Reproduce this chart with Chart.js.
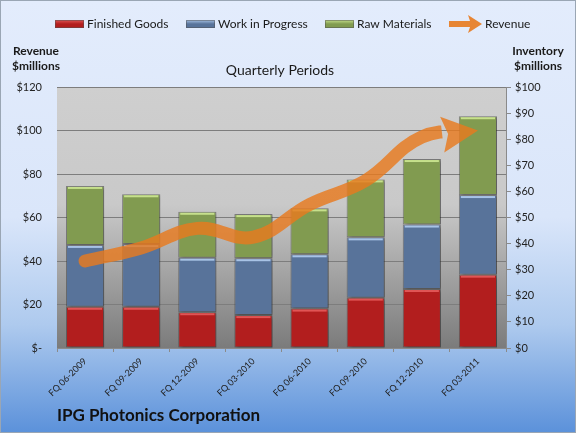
<!DOCTYPE html>
<html>
<head>
<meta charset="utf-8">
<script src="https://cdn.jsdelivr.net/npm/chart.js@4.4.1/dist/chart.umd.min.js"></script>
<style>
html,body{margin:0;padding:0;background:#fff;}
#wrap{width:576px;height:433px;}
</style>
</head>
<body>
<div id="wrap"><canvas id="chart" width="576" height="433"></canvas></div>
<script>
// quarter labels
const periods = ["FQ 06-2009", "FQ 09-2009", "FQ 12-2009", "FQ 03-2010",
                 "FQ 06-2010", "FQ 09-2010", "FQ 12-2010", "FQ 03-2011"];
// inventory, $ millions (right axis)
const finishedGoods  = [15.8, 15.8, 13.7, 12.6, 15.1, 19.3, 22.6, 28.1];
const workInProgress = [23.7, 24.0, 20.9, 21.8, 20.8, 23.1, 24.7, 30.5];
const rawMaterials   = [22.6, 19.1, 17.6, 16.9, 17.6, 22.2, 25.1, 30.2];
// revenue, $ millions (left axis)
const revenue = [40, 46, 55, 51, 66, 77, 97, 100];

const FONT = "Lato, 'Open Sans', sans-serif";
const ORANGE = "rgba(232,122,30,0.82)";

const barLook = [
    {fill:"#b21e1e", hi:"#e05555"},
    {fill:"#58739a", hi:"#a8c3e6"},
    {fill:"#819b50", hi:"#c6e08c"}
];

//      background: blue frame + gray plot gradient
const backdrop = {
    id:"backdrop",
    beforeDraw(chart){
        const {ctx, width, height, chartArea:a} = chart;
        ctx.save();
        let g = ctx.createLinearGradient(0,0,0,height);
        g.addColorStop(0,"#e3ecfc");
        g.addColorStop(0.5,"#dae6fa");
        g.addColorStop(0.75,"#aecaee");
        g.addColorStop(1,"#5b91da");
        ctx.fillStyle = g;
        ctx.fillRect(0,0,width,height);
        ctx.strokeStyle = "#9aa6b4";
        ctx.lineWidth = 1;
        ctx.strokeRect(0.5,0.5,width-1,height-1);

        let p = ctx.createLinearGradient(0,a.top,0,a.bottom);
        p.addColorStop(0,"#cfcfcf");
        p.addColorStop(0.45,"#c9c9c9");
        p.addColorStop(1,"#7b7b7b");
        ctx.fillStyle = p;
        ctx.fillRect(a.left,a.top,a.right-a.left,a.bottom-a.top);
        ctx.restore();
    }
};

//      bevel highlight on top of each bar piece + soft shadow
const bevel = {
    id:"bevel",
    beforeDatasetDraw(chart,args){
        if (args.meta.type !== "bar") return;
        const ctx = chart.ctx;
        ctx.save();
        ctx.shadowColor = "rgba(0,0,0,0.35)";
        ctx.shadowOffsetX = 2;
        ctx.shadowOffsetY = 1;
        ctx.shadowBlur = 3;
    },
    afterDatasetDraw(chart,args){
        if (args.meta.type !== "bar") return;
        const ctx = chart.ctx;
        ctx.restore();
        const look = barLook[args.index];
        ctx.save();
        args.meta.data.forEach(bar=>{
            const w = bar.width;
            ctx.fillStyle = look.hi;
            ctx.fillRect(bar.x - w/2 + 2, bar.y + 1, w - 4, 2);
        });
        ctx.restore();
    }
};

//      arrow head at the end of the revenue line
function headGeom(chart){
    const meta = chart.getDatasetMeta(3);
    const pts = meta.data;
    const last = pts[pts.length-1];
    const prev = pts[pts.length-2];
    let bx = (last.cp1x !== undefined) ? last.cp1x : prev.x;
    let by = (last.cp1y !== undefined) ? last.cp1y : prev.y;
    let dx = last.x - bx, dy = last.y - by;
    let len = Math.hypot(dx,dy) || 1;
    dx/=len; dy/=len;
    return {x:last.x, y:last.y, dx, dy, nx:-dy, ny:dx};
}
const arrowHead = {
    id:"arrowHead",
    beforeDatasetDraw(chart,args){
        if (args.index !== 3) return;
        const ctx = chart.ctx, h = headGeom(chart);
        const L = 36;
        const bx = h.x - h.dx*L, by = h.y - h.dy*L;
        ctx.save();
        ctx.beginPath();
        ctx.rect(0,0,chart.width,chart.height);
        ctx.moveTo(bx + h.nx*60, by + h.ny*60);
        ctx.lineTo(bx + h.nx*60 + h.dx*120, by + h.ny*60 + h.dy*120);
        ctx.lineTo(bx - h.nx*60 + h.dx*120, by - h.ny*60 + h.dy*120);
        ctx.lineTo(bx - h.nx*60, by - h.ny*60);
        ctx.closePath();
        ctx.clip("evenodd");
    },
    afterDatasetDraw(chart,args){
        if (args.index !== 3) return;
        const ctx = chart.ctx;
        ctx.restore();
        const h = headGeom(chart);
        const L = 36, W = 18;
        const bx = h.x - h.dx*L, by = h.y - h.dy*L;
        ctx.save();
        ctx.fillStyle = ORANGE;
        ctx.beginPath();
        ctx.moveTo(h.x, h.y);
        ctx.lineTo(bx + h.nx*W, by + h.ny*W);
        ctx.lineTo(bx + h.dx*6, by + h.dy*6);
        ctx.lineTo(bx - h.nx*W, by - h.ny*W);
        ctx.closePath();
        ctx.fill();
        ctx.restore();
    }
};

//      legend, axis titles and company name
const texts = {
    id:"texts",
    afterDraw(chart){
        const ctx = chart.ctx;
        ctx.save();
        ctx.textBaseline = "middle";
        ctx.fillStyle = "#1a1a1a";
        ctx.font = "12px " + FONT;

        const names = ["Finished Goods","Work in Progress","Raw Materials"];
        const sx = [55, 186, 325];
        const ly = 24;
        names.forEach((n,i)=>{
            let g = ctx.createLinearGradient(0,ly-4,0,ly+4);
            g.addColorStop(0,barLook[i].hi);
            g.addColorStop(0.5,barLook[i].fill);
            g.addColorStop(1,barLook[i].fill);
            ctx.fillStyle = g;
            ctx.fillRect(sx[i], ly-4, 29, 8);
            ctx.strokeStyle = "rgba(80,80,80,0.5)";
            ctx.lineWidth = 1;
            ctx.strokeRect(sx[i]+0.5, ly-3.5, 28, 7);
            ctx.fillStyle = "#1a1a1a";
            ctx.textAlign = "left";
            ctx.fillText(n, sx[i]+32, ly);
        });
        // revenue arrow in legend
        ctx.fillStyle = "rgba(232,122,30,0.9)";
        ctx.beginPath();
        ctx.moveTo(449, ly-3);
        ctx.lineTo(470, ly-3);
        ctx.lineTo(468, ly-9);
        ctx.lineTo(482, ly);
        ctx.lineTo(468, ly+9);
        ctx.lineTo(470, ly+3);
        ctx.lineTo(449, ly+3);
        ctx.closePath();
        ctx.fill();
        ctx.fillStyle = "#1a1a1a";
        ctx.fillText("Revenue", 485, ly);

        ctx.font = "bold 12px " + FONT;
        ctx.textAlign = "center";
        ctx.fillText("Revenue", 36, 51);
        ctx.fillText("$millions", 36, 66);
        ctx.fillText("Inventory", 538, 51);
        ctx.fillText("$millions", 538, 66);

        ctx.font = "14px " + FONT;
        ctx.fillText("Quarterly Periods", 280, 70);

        ctx.font = "bold 17px " + FONT;
        ctx.textAlign = "left";
        ctx.fillStyle = "#111";
        ctx.fillText("IPG Photonics Corporation", 57, 416);
        ctx.restore();
    }
};

const barSet = (label, data, i) => ({
    type:"bar",
    label:label,
    data:data,
    yAxisID:"yInv",
    backgroundColor:barLook[i].fill,
    borderColor:"rgba(70,70,70,0.55)",
    borderWidth:1,
    borderSkipped:false,
    barPercentage:0.68,
    categoryPercentage:1.0,
    order:1
});

const chart = new Chart(document.getElementById("chart"), {
    data:{
        labels:periods,
        datasets:[
            barSet("Finished Goods", finishedGoods, 0),
            barSet("Work in Progress", workInProgress, 1),
            barSet("Raw Materials", rawMaterials, 2),
            {
                type:"line",
                label:"Revenue",
                data:revenue,
                yAxisID:"yRev",
                borderColor:ORANGE,
                borderWidth:13,
                borderCapStyle:"round",
                borderJoinStyle:"round",
                pointRadius:0,
                tension:0.4,
                fill:false,
                order:0
            }
        ]
    },
    options:{
        responsive:false,
        animation:false,
        devicePixelRatio:1,
        layout:{padding:{left:0,right:0,top:87,bottom:35}},
        plugins:{legend:{display:false},tooltip:{enabled:false}},
        scales:{
            x:{
                stacked:true,
                offset:true,
                grid:{offset:true, drawOnChartArea:false, tickLength:4, color:"#8a8a8a"},
                border:{color:"#8a8a8a"},
                ticks:{
                    minRotation:45, maxRotation:45, padding:4,
                    color:"#222", font:{family:FONT, size:9}
                },
                afterFit(s){ s.height = 50; }
            },
            yRev:{
                position:"left",
                min:0, max:120,
                grid:{color:"#7d7d7d", drawTicks:false},
                border:{display:false},
                ticks:{
                    stepSize:20, padding:15, color:"#222",
                    font:{family:FONT, size:11},
                    callback:v => v === 0 ? "$-" : "$" + v
                },
                afterFit(s){ s.width = 57; }
            },
            yInv:{
                position:"right",
                stacked:true,
                min:0, max:100,
                grid:{drawOnChartArea:false, tickLength:5, color:"#8a8a8a"},
                border:{color:"#8a8a8a"},
                ticks:{
                    stepSize:10, padding:4, color:"#222",
                    font:{family:FONT, size:11},
                    callback:v => "$" + v
                },
                afterFit(s){ s.width = 70; }
            }
        }
    },
    plugins:[backdrop, bevel, arrowHead, texts]
});
</script>
</body>
</html>
